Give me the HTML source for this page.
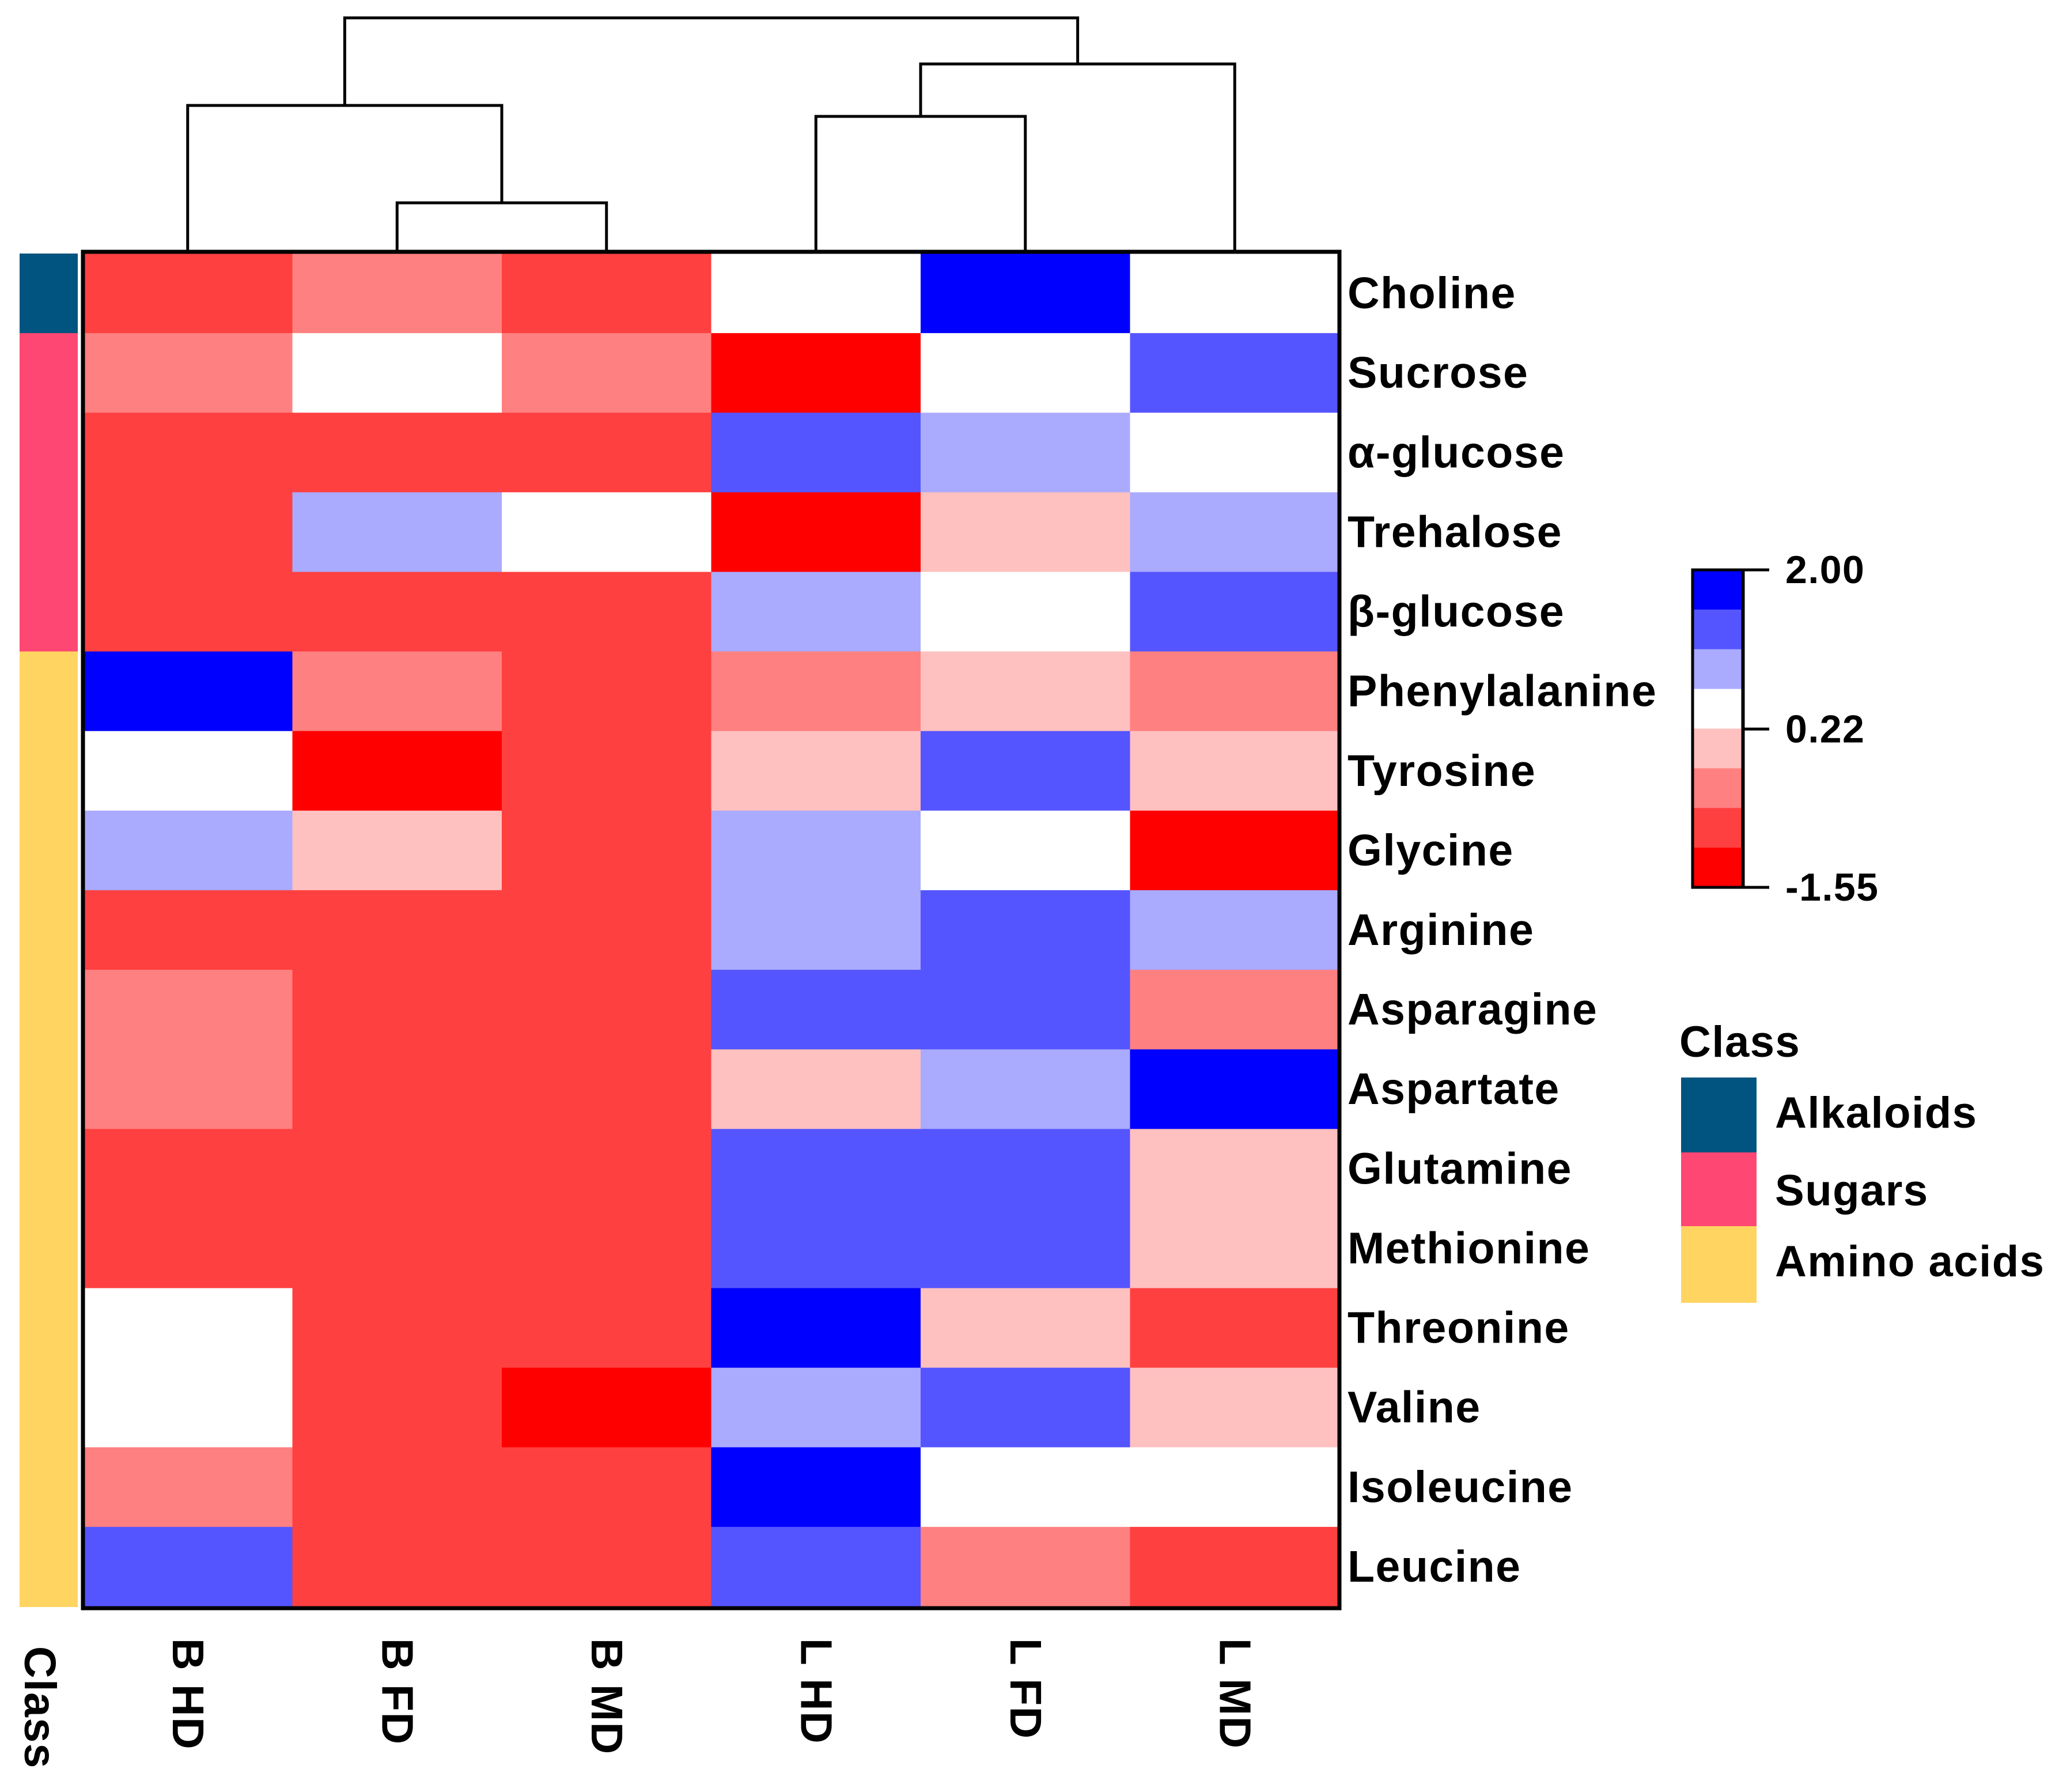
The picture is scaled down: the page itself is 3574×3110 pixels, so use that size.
<!DOCTYPE html>
<html><head><meta charset="utf-8"><style>
html,body{margin:0;padding:0;background:#fff;}
svg{display:block;}
text{font-family:"Liberation Sans",Arial,sans-serif;font-weight:bold;fill:#000;letter-spacing:1.5px;}
</style></head><body>
<svg id="chart" width="3574" height="3110" viewBox="0 0 3574 3110" xmlns="http://www.w3.org/2000/svg">
<g id="cells"></g>
<g id="classbar"></g>
<g id="dendro"></g>
<g id="rowlabels"></g>
<g id="collabels"></g>
<rect x="144" y="437" width="2181" height="2354" fill="none" stroke="#000" stroke-width="7"/>
<g id="colorbar"></g>
<g id="classlegend"></g>
</svg>
<script>
const metabolites = ["Choline","Sucrose","α-glucose","Trehalose","β-glucose","Phenylalanine","Tyrosine","Glycine","Arginine","Asparagine","Aspartate","Glutamine","Methionine","Threonine","Valine","Isoleucine","Leucine"];
const samples = ["B HD","B FD","B MD","L HD","L FD","L MD"];
const classOf = [0,1,1,1,1,2,2,2,2,2,2,2,2,2,2,2,2];
const classNames = ["Alkaloids","Sugars","Amino acids"];
const classColors = ["#01547f","#ff4774","#ffd461"];
const colBHD = [-0.89,-0.44,-0.89,-0.89,-0.89,1.78,0.44,0.89,-0.89,-0.44,-0.44,-0.89,-0.89,0.44,0.44,-0.44,1.33];
const colBFD = [-0.44,0.44,-0.89,0.89,-0.89,-0.44,-1.33,0,-0.89,-0.89,-0.89,-0.89,-0.89,-0.89,-0.89,-0.89,-0.89];
const colBMD = [-0.89,-0.44,-0.89,0.44,-0.89,-0.89,-0.89,-0.89,-0.89,-0.89,-0.89,-0.89,-0.89,-0.89,-1.33,-0.89,-0.89];
const colLHD = [0.44,-1.33,1.33,-1.33,0.89,-0.44,0,0.89,0.89,1.33,0,1.33,1.33,1.78,0.89,1.78,1.33];
const colLFD = [1.78,0.44,0.89,0,0.44,0,1.33,0.44,1.33,1.33,0.89,1.33,1.33,0,1.33,0.44,-0.44];
const colLMD = [0.44,1.33,0.44,0.89,1.33,-0.44,0,-1.33,0.89,-0.44,1.78,0,0,-0.89,0,0.44,-0.89];
const columns = [colBHD,colBFD,colBMD,colLHD,colLFD,colLMD];
const scaleTicks = [2.00,0.22,-1.55];
const palette = ["#ff0000","#ff4040","#ff8080","#ffc0c0","#ffffff","#aaaaff","#5555ff","#0000ff"];
const vMin=-1.55, vMax=2.0;
const NS="http://www.w3.org/2000/svg";
const X0=144, X1=2325, Y0=440, Y1=2788;
const cw=(X1-X0)/samples.length, rh=(Y1-Y0)/metabolites.length;
const xS=i=>X0+i*cw, yS=j=>Y0+j*rh;
function colorFor(v){let k=Math.floor((v-vMin)/(vMax-vMin)*8);k=Math.max(0,Math.min(7,k));return palette[k];}
function mk(tag,attrs,parent){const e=document.createElementNS(NS,tag);for(const k in attrs)e.setAttribute(k,attrs[k]);parent.appendChild(e);return e;}
const cells=document.getElementById('cells');
columns.forEach((col,i)=>col.forEach((v,j)=>{
  const r=mk('rect',{x:xS(i),y:yS(j),width:cw+1,height:rh+1,fill:colorFor(v)},cells);
  
  
}));
const cb=document.getElementById('classbar');
classOf.forEach((c,j)=>{
  const r=mk('rect',{x:34,y:yS(j),width:101,height:rh+1,fill:classColors[c]},cb);
  
  
});
const rl=document.getElementById('rowlabels');
metabolites.forEach((m,j)=>{
  const t=mk('text',{x:2339,y:yS(j)+rh/2,'dominant-baseline':'central','font-size':77},rl);
  t.textContent=m;
  
  
});
const cl=document.getElementById('collabels');
samples.forEach((s,i)=>{
  const cx=xS(i)+cw/2;
  const t=mk('text',{x:cx,y:2843,'font-size':77,'dominant-baseline':'central',transform:`rotate(90 ${cx} 2843)`},cl);
  t.textContent=s;
  
  
});
const ct=mk('text',{x:69,y:2857,'font-size':77,'dominant-baseline':'central',transform:'rotate(90 69 2857)'},cl);
ct.textContent="Class";


const dg=document.getElementById('dendro');
const L=i=>xS(i)+cw/2;
function link(xa,ya,xb,yb,yt){
  const p=mk('path',{d:`M${xa} ${ya}V${yt}H${xb}V${yb}`,fill:'none',stroke:'#000','stroke-width':5},dg);
  
  
}
const base=434;
link(L(1),base,L(2),base,352);
const m12=(L(1)+L(2))/2;
link(L(0),base,m12,352,183);
const mB=(L(0)+m12)/2;
link(L(3),base,L(4),base,202);
const m34=(L(3)+L(4))/2;
link(m34,202,L(5),base,111);
const mL=(m34+L(5))/2;
link(mB,183,mL,111,31);
const cg=document.getElementById('colorbar');
const cbTop=989, cbBot=1540, segH=(cbBot-cbTop)/8;
for(let k=0;k<8;k++){
  const r=mk('rect',{x:2940,y:cbTop+k*segH,width:84,height:segH+1,fill:palette[7-k]},cg);
  
  
}
mk('rect',{x:2938,y:cbTop,width:87,height:cbBot-cbTop,fill:'none',stroke:'#000','stroke-width':5},cg);
mk('line',{x1:3026,y1:cbTop,x2:3026,y2:cbBot,stroke:'#000','stroke-width':5},cg);
scaleTicks.forEach(v=>{
  const y=cbTop+(vMax-v)/(vMax-vMin)*(cbBot-cbTop);
  mk('line',{x1:3026,y1:y,x2:3071,y2:y,stroke:'#000','stroke-width':5},cg);
  const t=mk('text',{x:3099,y:y,'font-size':68,'dominant-baseline':'central'},cg);
  t.textContent=v.toFixed(2);
  
  
});
const lg=document.getElementById('classlegend');
const lt=mk('text',{x:2915,y:1834,'font-size':76},lg);
lt.textContent="Class";


const ly=[1870,2000,2128], lb=[1957,2092,2215];
classNames.forEach((n,k)=>{
  const r=mk('rect',{x:2918,y:ly[k],width:131,height:(k==2?132:130)+1,fill:classColors[k]},lg);
  
  
  const t=mk('text',{x:3081,y:lb[k],'font-size':76},lg);
  t.textContent=n;
  
  
});
</script>
</body></html>
